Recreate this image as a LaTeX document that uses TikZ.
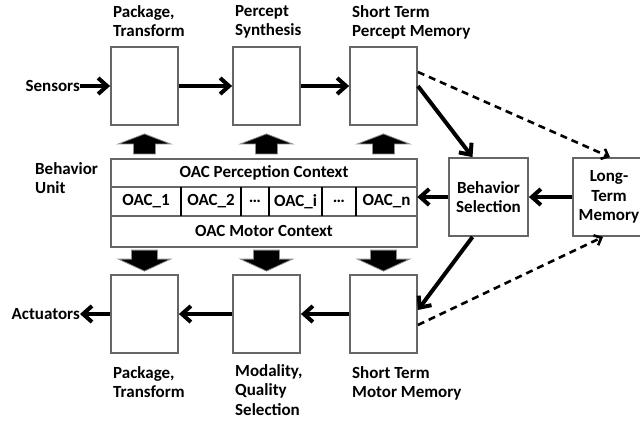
\documentclass[tikz,border=0pt]{standalone}
\usepackage{fontspec}
\setmainfont{Carlito}
\usetikzlibrary{arrows.meta}

\begin{document}
\begin{tikzpicture}[x=1pt,y=-1pt,
  font=\fontsize{17}{19.5}\selectfont\bfseries,
  box/.style={draw=black!60,line width=1.8pt,fill=white,
    minimum width=67pt,minimum height=78pt,inner sep=0pt},
  lbl/.style={align=left,inner sep=0pt,anchor=north west},
  cell/.style={minimum height=29pt,inner sep=0pt},
  flow/.style={line width=4pt,-{Straight Barb[length=9pt,width=16pt]}},
  recall/.style={line width=2.6pt,dash pattern=on 7pt off 5pt,
    -{Straight Barb[length=6pt,width=11pt]}},
  fat/.style={draw=black!45,line width=0.8pt,fill=black}]

\useasboundingbox (0,0) rectangle (640,421);

%====================================================
% Perception row
%====================================================
\node[box] (pt1) at (144.5,86) {};
\node[box] (ps) at (266.5,86) {};
\node[box] (stpm) at (383.5,86) {};

\node[lbl] (lpt1) at (113,5) {Package,\\Transform};
\node[lbl] (lps) at (235,5) {Percept\\Synthesis};
\node[lbl] (lstpm) at (352,5) {Short Term\\Percept Memory};

\node[inner sep=0pt,anchor=east] (sens) at (80,86) {Sensors};

%====================================================
% Motor row
%====================================================
\node[box] (pt2) at (144.5,314) {};
\node[box] (mqs) at (266.5,314) {};
\node[box] (stmm) at (383.5,314) {};

\node[lbl] (lpt2) at (113,366) {Package,\\Transform};
\node[lbl] (lmqs) at (235,364) {Modality,\\Quality\\Selection};
\node[lbl] (lstmm) at (352,366) {Short Term\\Motor Memory};

\node[inner sep=0pt,anchor=east] (act) at (80,314) {Actuators};

%====================================================
% Behavior unit
%====================================================
\node[box,minimum width=306pt,minimum height=88pt] (bu) at (264,203) {};
\draw[black!60,line width=1.2pt] (111,187) -- (417,187);
\draw[black!60,line width=1.2pt] (111,216) -- (417,216);

\node (pc) at (264,173) {OAC Perception Context};
\node (mc) at (264,231) {OAC Motor Context};

\node[cell,minimum width=70pt] (oac1) at (146,201.5) {OAC\_1};
\node[cell,minimum width=60pt] (oac2) at (211,201.5) {OAC\_2};
\node[cell,minimum width=28pt] (dots1) at (255,201.5) {\ldots};
\node[cell,minimum width=53pt] (oaci) at (295.5,201.5) {OAC\_i};
\node[cell,minimum width=34pt] (dots2) at (339,201.5) {\ldots};
\node[cell,minimum width=61pt] (oacn) at (386.5,201.5) {OAC\_n};

\foreach \c in {oac1,oac2,dots1,oaci,dots2}
  \draw[line width=1.8pt] (\c.north east) -- (\c.south east);

\node[lbl] (lbu) at (35,162) {Behavior\\Unit};

% Fat arrows up / down
\foreach \b in {pt1,ps,stpm}
  \filldraw[fat] ([yshift=-8pt]\b.south) -- ++(26,10) -- ++(-15,0) -- ++(0,10)
    -- ++(-22,0) -- ++(0,-10) -- ++(-15,0) -- cycle;
\foreach \b in {pt2,mqs,stmm}
  \filldraw[fat] ([yshift=3pt]\b.north) -- ++(26,-12) -- ++(-13,0) -- ++(0,-9)
    -- ++(-26,0) -- ++(0,9) -- ++(-13,0) -- cycle;

%====================================================
% Selection and memory
%====================================================
\node[box,minimum width=79pt,align=center] (bs) at (488.5,197) {Behavior\\Selection};
\node[box,minimum width=72pt,align=center] (ltm) at (609,197) {Long-\\Term\\Memory};

%Arrows
\draw[flow] (sens) -- (pt1);
\draw[flow] (pt1) -- (ps);
\draw[flow] (ps) -- (stpm);
\draw[flow] (stpm.east) -- ([xshift=-16pt]bs.north);
\draw[recall] ([yshift=14pt]stpm.east) -- ([xshift=1pt]ltm.north);
\draw[flow] (ltm) -- (bs);
\draw[flow] (bs.west) -- (bs.west -| oacn.east);
\draw[flow] ([xshift=-16pt]bs.south) -- ([yshift=4pt]stmm.east);
\draw[recall] ([yshift=-11pt]stmm.east) -- ([xshift=-6pt]ltm.south);
\draw[flow] (stmm) -- (mqs);
\draw[flow] (mqs) -- (pt2);
\draw[flow] (pt2) -- (act);

\end{tikzpicture}
\end{document}
